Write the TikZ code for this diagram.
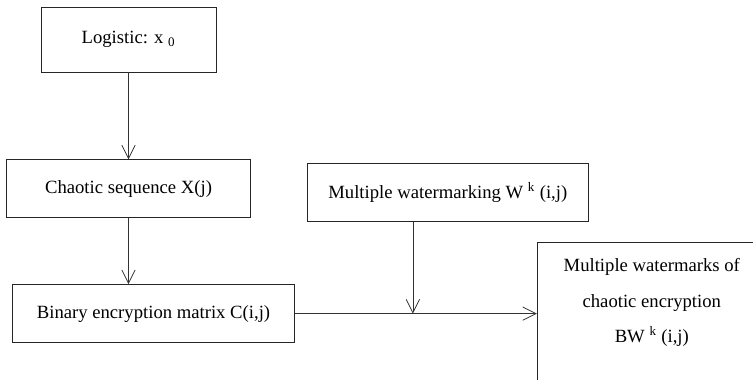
\documentclass[tikz,border=0pt]{standalone}
\usepackage{fontspec}
\setmainfont{Liberation Serif}
\usetikzlibrary{arrows.meta,positioning}

\begin{document}
\begin{tikzpicture}[
  font=\fontsize{14}{16}\selectfont,
  box/.style={draw=black!85, line width=0.6pt, align=center, inner sep=0pt, minimum height=43.5pt},
  arr/.style={-{Straight Barb[length=10pt,width=10pt]}, draw=black!80, line width=0.6pt}
]
\clip (0,0) rectangle (564.75pt,-284.25pt);
\node[box, minimum width=131.25pt, minimum height=48.75pt] (logi) at (96.375pt,-29.625pt) {Logistic: x \textsubscript{0}};
\node[box, minimum width=183pt, below=65.25pt of logi] (chaos) {Chaotic sequence X(j)};
\node[box, minimum width=211.5pt, below right=49.5pt and 4.5pt of chaos.south west] (binm) {Binary encryption matrix C(i,j)};
\node[box, minimum width=210.75pt, right=42pt of chaos, yshift=-3pt] (wmark) {Multiple watermarking W \textsuperscript{k} (i,j)};
\node[box, minimum width=171.75pt, above right=31.5pt and 181.5pt of binm.north east, anchor=north west,
  inner ysep=12pt, text depth=40pt, font=\fontsize{14}{26.6}\selectfont] (bwm)
  {Multiple watermarks of\\chaotic encryption\\BW \textsuperscript{k} (i,j)};
\coordinate[right=88.5pt of binm.east] (meet);
\draw[arr] (logi) -- (chaos);
\draw[arr] (chaos.south) -- (chaos.south |- binm.north);
\draw[arr] (binm.east) -- (binm.east -| bwm.west);
\draw[arr] (wmark.south -| meet) -- (meet);
\end{tikzpicture}
\end{document}
